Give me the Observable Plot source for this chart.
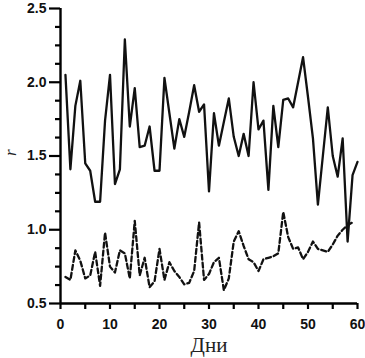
<!DOCTYPE html>
<html>
<head>
<meta charset="utf-8">
<script src="https://cdn.jsdelivr.net/npm/d3@7"></script>
<script src="https://cdn.jsdelivr.net/npm/@observablehq/plot@0.6"></script>
<style>
  html, body { margin: 0; padding: 0; background: #fff; }
  svg { display: block; }
</style>
</head>
<body>
<div id="chart"></div>
<script>
const days = [1,2,3,4,5,6,7,8,9,10,11,12,13,14,15,16,17,18,19,20,21,22,23,24,25,26,27,28,29,30,
  31,32,33,34,35,36,37,38,39,40,41,42,43,44,45,46,47,48,49,50,51,52,53,54,55,56,57,58,59,60];

const solidValues = [2.05,1.41,1.84,2.01,1.45,1.40,1.19,1.19,1.74,2.05,
  1.31,1.41,2.29,1.70,1.96,1.56,1.57,1.70,1.40,1.40,
  2.03,1.79,1.55,1.75,1.63,1.80,1.98,1.80,1.85,1.26,
  1.79,1.57,1.73,1.89,1.63,1.50,1.65,1.50,2.00,1.68,
  1.74,1.27,1.84,1.56,1.88,1.89,1.83,2.00,2.17,1.90,
  1.62,1.17,1.50,1.83,1.50,1.36,1.62,0.92,1.37,1.46];

const dashedValues = [0.68,0.66,0.86,0.79,0.67,0.69,0.85,0.62,0.98,0.75,
  0.71,0.86,0.84,0.67,1.06,0.69,0.81,0.61,0.65,0.87,
  0.66,0.78,0.72,0.68,0.63,0.64,0.72,1.05,0.66,0.70,
  0.78,0.81,0.59,0.67,0.92,0.99,0.89,0.80,0.78,0.72,
  0.80,0.81,0.82,0.84,1.12,0.95,0.87,0.88,0.80,0.85,
  0.92,0.87,0.86,0.85,0.90,0.96,1.00,1.03,1.05];

const xMajorTicks = [0,10,20,30,40,50,60];
const xMinorTicks = [5,15,25,35,45,55];
const yMajorTicks = [0.5,1,1.5,2,2.5];
const yMinorTicks = [0.625,0.75,0.875,1.125,1.25,1.375,1.625,1.75,1.875,2.125,2.25,2.375];
const xLabel = "Дни";
const yLabel = "r";

const solid = solidValues.map((v, i) => ({day: days[i], r: v}));
const dashed = dashedValues.map((v, i) => ({day: days[i], r: v}));

const chart = Plot.plot({
  width: 365,
  height: 358,
  marginLeft: 60,
  marginRight: 8,
  marginTop: 8,
  marginBottom: 55,
  style: {fontFamily: "'Liberation Sans', Arial, sans-serif", fontSize: "14px", fontWeight: "bold", color: "#000", background: "#fff"},
  x: {domain: [0, 60]},
  y: {domain: [0.5, 2.5]},
  marks: [
    Plot.axisX({ticks: xMajorTicks, tickSize: 6, tickPadding: 10, strokeWidth: 2.2, label: null, fontSize: 14, fontWeight: "bold", fill: "#111"}),
    Plot.axisX({ticks: xMinorTicks, tickSize: 6, strokeWidth: 2.2, text: null, label: null}),
    Plot.axisY({ticks: yMajorTicks, tickSize: 11, tickPadding: 3, strokeWidth: 2.2, label: null, fontSize: 14, fontWeight: "bold", fill: "#111"}),
    Plot.axisY({ticks: yMinorTicks, tickSize: 5, strokeWidth: 2.2, text: null, label: null}),
    Plot.ruleX([0], {stroke: "#000", strokeWidth: 2.4}),
    Plot.ruleY([0.5], {stroke: "#000", strokeWidth: 2.4}),
    Plot.line(dashed, {x: "day", y: "r", stroke: "#111", strokeWidth: 2.3, strokeDasharray: "5,3"}),
    Plot.line(solid, {x: "day", y: "r", stroke: "#111", strokeWidth: 2.3}),
    Plot.text([xLabel], {text: d => d, frameAnchor: "bottom", dy: 48, fontFamily: "'Liberation Serif', 'Times New Roman', serif", fontSize: 21, fontWeight: "normal", fill: "#222"}),
    Plot.text([yLabel], {text: d => d, frameAnchor: "left", dx: -50, rotate: -90, fontFamily: "'Liberation Serif', 'Times New Roman', serif", fontSize: 17, fontStyle: "italic", fontWeight: "normal", fill: "#222"})
  ]
});
document.getElementById("chart").appendChild(chart);
</script>
</body>
</html>
